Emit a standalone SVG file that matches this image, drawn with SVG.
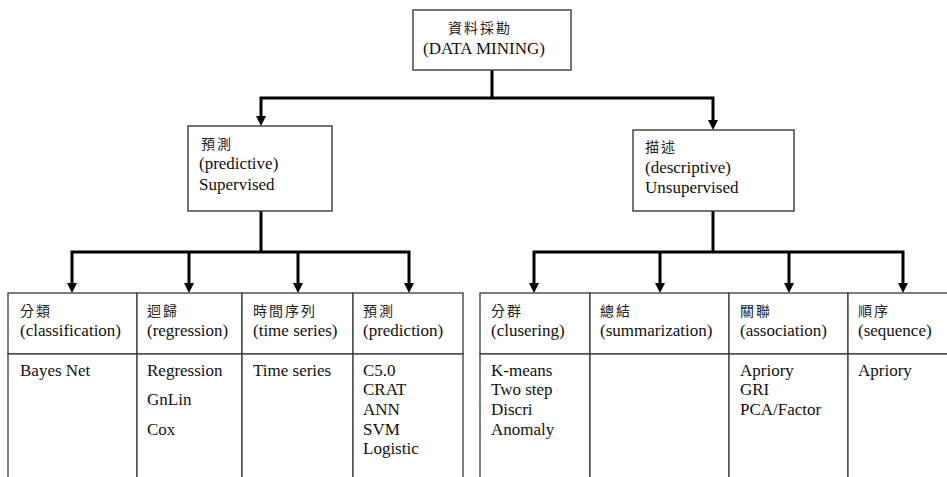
<svg xmlns="http://www.w3.org/2000/svg" width="947" height="477" viewBox="0 0 947 477">
  <style>
    .box { fill: #fff; stroke: #3a3a3a; stroke-width: 1.4; }
    .cell { fill: #fff; stroke: #3a3a3a; stroke-width: 1.3; }
    .lat { font-family: "Liberation Serif", "Times New Roman", serif; font-size: 17px; fill: #111; }
    .cjk { font-family: "Noto Sans CJK TC", "Noto Sans CJK SC", sans-serif; font-size: 14px; letter-spacing: 2px; fill: #222; }
    .wire { fill: none; stroke: #000; stroke-width: 3; marker-end: url(#arrow); }
    .trunk { fill: none; stroke: #000; stroke-width: 3; }
  </style>
  <defs>
    <!-- solid downward arrowhead; tip sits 8px past the end of the wire -->
    <marker id="arrow" markerUnits="userSpaceOnUse" markerWidth="10" markerHeight="10" refX="2" refY="5" orient="auto" viewBox="0 0 10 10">
      <path d="M0,0 L10,5 L0,10 Z" fill="#000"/>
    </marker>
  </defs>

  <!-- connectors -->
  <g id="connectors">
    <path class="trunk" d="M492,70 V98"/>
    <path class="wire" d="M492,98 H261 V118"/>
    <path class="wire" d="M492,98 H713 V122"/>
    <path class="trunk" d="M261,211 V252"/>
    <path class="wire" d="M261,252 H72 V285"/>
    <path class="wire" d="M261,252 H409 V285"/>
    <path class="wire" d="M189,252 V285"/>
    <path class="wire" d="M298,252 V285"/>
    <path class="trunk" d="M713,211 V252"/>
    <path class="wire" d="M713,252 H534 V285"/>
    <path class="wire" d="M713,252 H903 V285"/>
    <path class="wire" d="M660,252 V285"/>
    <path class="wire" d="M789,252 V285"/>
  </g>

  <!-- root -->
  <g id="data-mining">
    <rect class="box" x="413" y="10" width="158" height="60"/>
    <text class="cjk" x="448" y="33">資料採勘</text>
    <text class="lat" x="423" y="54">(DATA MINING)</text>
  </g>

  <!-- second level -->
  <g id="predictive">
    <rect class="box" x="188" y="126" width="144" height="85"/>
    <text class="cjk" x="201" y="149">預測</text>
    <text class="lat" x="199" y="169">(predictive)</text>
    <text class="lat" x="199" y="190">Supervised</text>
  </g>
  <g id="descriptive">
    <rect class="box" x="633" y="130" width="161" height="81"/>
    <text class="cjk" x="645" y="152">描述</text>
    <text class="lat" x="645" y="173">(descriptive)</text>
    <text class="lat" x="645" y="193">Unsupervised</text>
  </g>

  <!-- predictive methods -->
  <g id="classification">
    <rect class="cell" x="8" y="293" width="129" height="61"/>
    <rect class="cell" x="8" y="354" width="129" height="140"/>
    <text class="cjk" x="20" y="316">分類</text>
    <text class="lat" x="20" y="336">(classification)</text>
    <text class="lat" x="20" y="376">Bayes Net</text>
  </g>
  <g id="regression">
    <rect class="cell" x="137" y="293" width="105" height="61"/>
    <rect class="cell" x="137" y="354" width="105" height="140"/>
    <text class="cjk" x="147" y="316">迴歸</text>
    <text class="lat" x="147" y="336">(regression)</text>
    <text class="lat" x="147" y="376">Regression</text>
    <text class="lat" x="147" y="405">GnLin</text>
    <text class="lat" x="147" y="435">Cox</text>
  </g>
  <g id="time-series">
    <rect class="cell" x="242" y="293" width="111" height="61"/>
    <rect class="cell" x="242" y="354" width="111" height="140"/>
    <text class="cjk" x="253" y="316">時間序列</text>
    <text class="lat" x="253" y="336">(time series)</text>
    <text class="lat" x="253" y="376">Time series</text>
  </g>
  <g id="prediction">
    <rect class="cell" x="353" y="293" width="110" height="61"/>
    <rect class="cell" x="353" y="354" width="110" height="140"/>
    <text class="cjk" x="363" y="316">預測</text>
    <text class="lat" x="363" y="336">(prediction)</text>
    <text class="lat" x="363" y="376">C5.0</text>
    <text class="lat" x="363" y="395">CRAT</text>
    <text class="lat" x="363" y="415">ANN</text>
    <text class="lat" x="363" y="435">SVM</text>
    <text class="lat" x="363" y="454">Logistic</text>
  </g>

  <!-- descriptive methods -->
  <g id="clustering">
    <rect class="cell" x="480" y="293" width="110" height="61"/>
    <rect class="cell" x="480" y="354" width="110" height="140"/>
    <text class="cjk" x="491" y="316">分群</text>
    <text class="lat" x="491" y="336">(clusering)</text>
    <text class="lat" x="491" y="376">K-means</text>
    <text class="lat" x="491" y="395">Two step</text>
    <text class="lat" x="491" y="415">Discri</text>
    <text class="lat" x="491" y="435">Anomaly</text>
  </g>
  <g id="summarization">
    <rect class="cell" x="590" y="293" width="139" height="61"/>
    <rect class="cell" x="590" y="354" width="139" height="140"/>
    <text class="cjk" x="600" y="316">總結</text>
    <text class="lat" x="600" y="336">(summarization)</text>
  </g>
  <g id="association">
    <rect class="cell" x="729" y="293" width="119" height="61"/>
    <rect class="cell" x="729" y="354" width="119" height="140"/>
    <text class="cjk" x="740" y="316">關聯</text>
    <text class="lat" x="740" y="336">(association)</text>
    <text class="lat" x="740" y="376">Apriory</text>
    <text class="lat" x="740" y="395">GRI</text>
    <text class="lat" x="740" y="415">PCA/Factor</text>
  </g>
  <g id="sequence">
    <rect class="cell" x="848" y="293" width="120" height="61"/>
    <rect class="cell" x="848" y="354" width="120" height="140"/>
    <text class="cjk" x="858" y="316">順序</text>
    <text class="lat" x="858" y="336">(sequence)</text>
    <text class="lat" x="858" y="376">Apriory</text>
  </g>
</svg>
